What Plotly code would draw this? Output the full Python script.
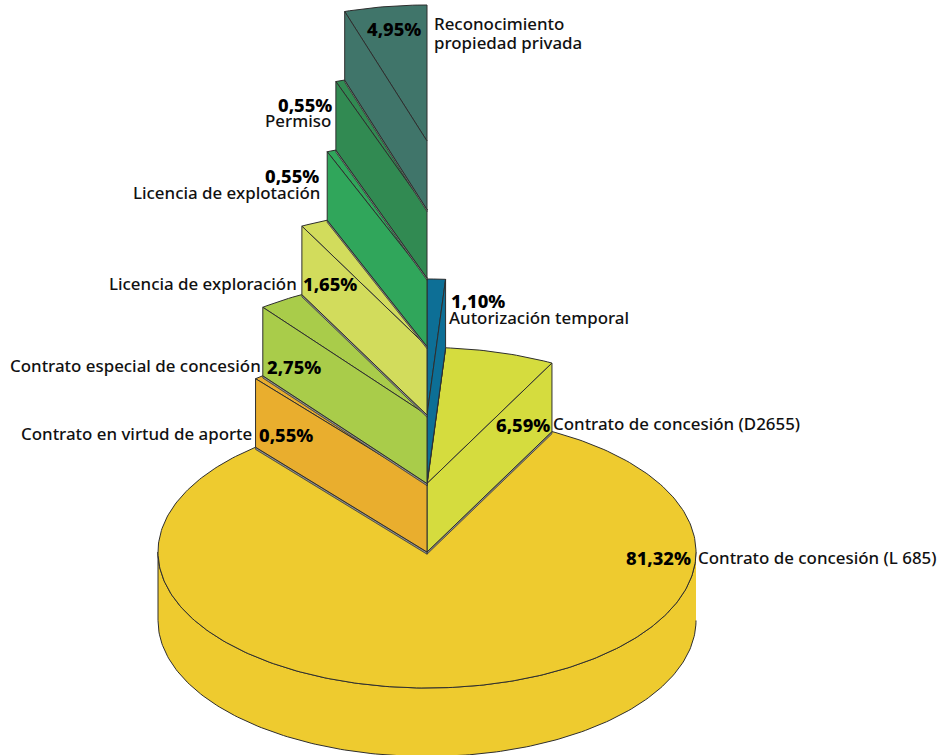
import numpy as np
import plotly.graph_objects as go

# ---- data, clockwise from twelve o'clock ----
categories = ["Autorización temporal", "Contrato de concesión (D2655)", "Contrato de concesión (L 685)",
              "Contrato en virtud de aporte", "Contrato especial de concesión", "Licencia de exploración",
              "Licencia de explotación", "Permiso", "Reconocimiento propiedad privada"]
values = [1.10, 6.59, 81.32, 0.55, 2.75, 1.65, 0.55, 0.55, 4.95]
lift_levels = [2, 1, 0, 1, 2, 3, 4, 5, 6]
colors = ["#0d6f96", "#d5dc3e", "#eecb2f", "#e9ae2e", "#a9cc4a", "#d2dc5c", "#30a65b", "#318a52", "#40756a"]

# ---- projection ----
CX, CY, RX, RY, DEPTH = 427, 552, 269, 136, 68.5
LINE = "#2e2e2e"
total = sum(values)
edges = np.concatenate([[0], np.cumsum(values)]) / total * 2 * np.pi


def px(a, r=1.0):
    return CX + RX * r * np.sin(a)


def py(a, level, r=1.0):
    return CY - level * DEPTH - RY * r * np.cos(a)


def arc(a0, a1):
    n = max(2, int(abs(a1 - a0) * 60))
    return np.linspace(a0, a1, n)


fig = go.Figure()


def poly(xs, ys, color, lw=1.0, line=LINE):
    fig.add_trace(go.Scatter(x=list(xs), y=list(ys), mode="lines", fill="toself", fillcolor=color,
                             line=dict(color=line, width=lw), hoverinfo="skip", showlegend=False))


def top_face(i):
    t = arc(edges[i], edges[i + 1])
    lv = lift_levels[i]
    poly(np.r_[CX, px(t), CX], np.r_[CY - lv * DEPTH, py(t, lv), CY - lv * DEPTH], colors[i])


def cut_face(i, a):
    lv = lift_levels[i]
    x0, x1 = CX, px(a)
    y_low0, y_low1 = CY - (lv - 1) * DEPTH, py(a, lv - 1)
    # thin grey base strip that runs under each cut face
    poly([x0, x1, x1, x0, x0], [y_low0, y_low1, y_low1 + 2.2, y_low0 + 2.2, y_low0], "#8d8d8d", 0.7)
    xs = [x0, x1, x1, x0, x0]
    ys = [CY - lv * DEPTH, py(a, lv), y_low1, y_low0, CY - lv * DEPTH]
    poly(xs, ys, colors[i])


# main slice: outer wall, then top
m = 2
t = arc(np.pi / 2, 3 * np.pi / 2)
poly(np.r_[px(t), px(t[::-1])], np.r_[py(t, 0), py(t[::-1], -1)], colors[m])
top_face(m)

# lifted slices, lowest first
for i in sorted(range(len(values)), key=lambda k: lift_levels[k]):
    if i == m:
        continue
    right_side = (edges[i] + edges[i + 1]) / 2 < np.pi
    top_face(i)
    cut_face(i, edges[i + 1] if right_side else edges[i])

# ---- labels ----
pct = [f"{v:.2f}%".replace(".", ",") for v in values]
FONT = "Noto Sans"
NAME = dict(family=FONT, size=16.9, color="#111111", weight=500)
PCT = dict(family=FONT, size=18.4, color="#000000", weight=800)


def note(x, y, text, anchor, font):
    fig.add_annotation(x=x, y=y - 1, text=text, xanchor=anchor, yanchor="middle", showarrow=False,
                       font=font, align="left", xref="x", yref="y", borderpad=0, borderwidth=0)


note(434, 24, categories[8][:14], "left", NAME)
note(434, 43, categories[8][15:], "left", NAME)
note(421, 29, pct[8], "right", PCT)
note(332, 105, pct[7], "right", PCT)
note(331, 121, categories[7], "right", NAME)
note(319, 176, pct[6], "right", PCT)
note(320, 193, categories[6], "right", NAME)
note(297, 284, categories[5], "right", NAME)
note(303, 284, pct[5], "left", PCT)
note(451, 301, pct[0], "left", PCT)
note(449, 318, categories[0], "left", NAME)
note(261, 366, categories[4], "right", NAME)
note(267, 367, pct[4], "left", PCT)
note(252, 434, categories[3], "right", NAME)
note(259, 435, pct[3], "left", PCT)
note(496, 425, pct[1], "left", PCT)
note(553, 424, categories[1], "left", NAME)
note(626, 558, pct[2], "left", PCT)
note(698, 558, categories[2], "left", NAME)

fig.update_layout(width=947, height=755, margin=dict(l=0, r=0, t=0, b=0),
                  paper_bgcolor="white", plot_bgcolor="white", showlegend=False,
                  xaxis=dict(range=[0, 947], visible=False, fixedrange=True),
                  yaxis=dict(range=[755, 0], visible=False, fixedrange=True))
fig.write_html("out.html", config=dict(displayModeBar=False),
               post_script="document.body.style.margin='0';document.documentElement.style.overflow='hidden';")
